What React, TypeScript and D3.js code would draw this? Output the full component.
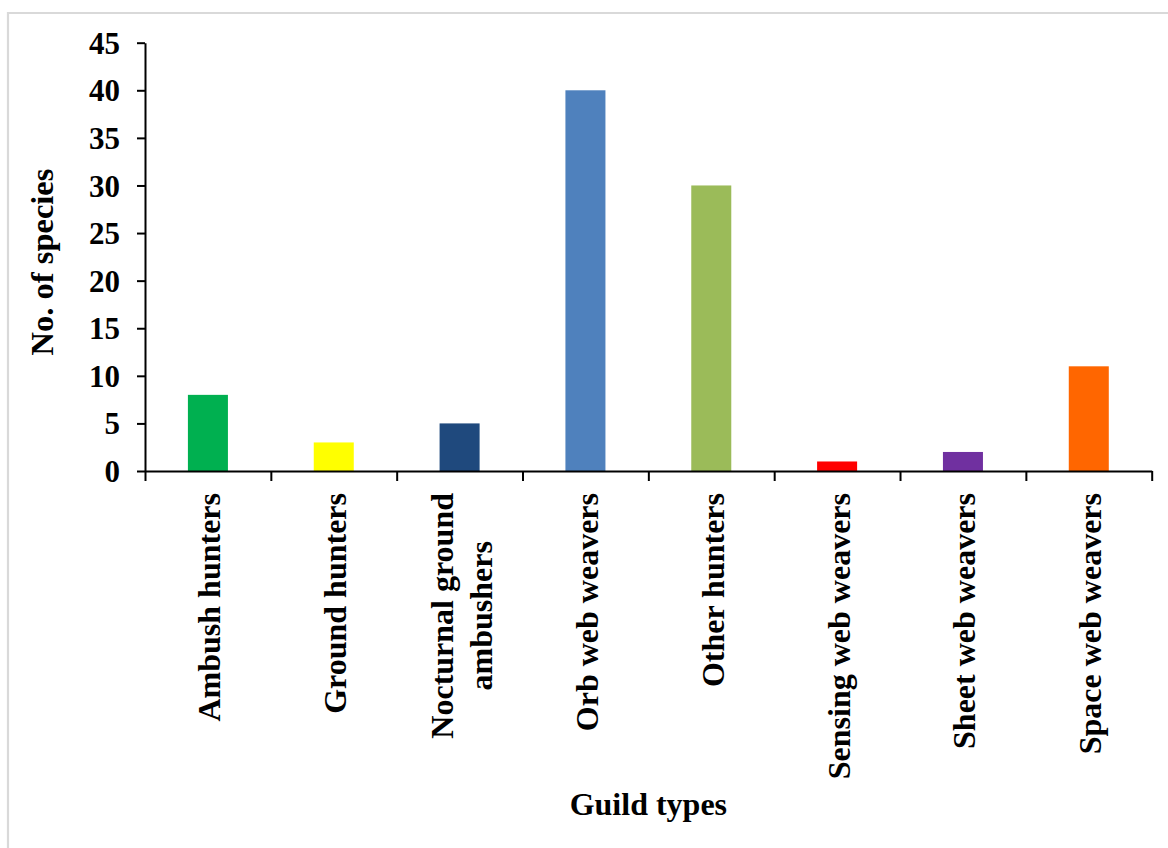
import React, { useEffect, useRef } from "react";
import * as d3 from "d3";

// Guild categories, species counts and bar colours
const categories = [
  "Ambush hunters",
  "Ground hunters",
  "Nocturnal ground\nambushers",
  "Orb web weavers",
  "Other hunters",
  "Sensing web weavers",
  "Sheet web weavers",
  "Space web weavers",
];
const speciesCounts = [8, 3, 5, 40, 30, 1, 2, 11];
const barColors = [
  "#00B050",
  "#FFFF00",
  "#1F497D",
  "#4F81BD",
  "#9BBB59",
  "#FF0000",
  "#7030A0",
  "#FF6600",
];
const yTickValues = [0, 5, 10, 15, 20, 25, 30, 35, 40, 45];

const FONT = "'Liberation Serif', 'Times New Roman', Times, serif";

export default function App() {
  const ref = useRef<SVGSVGElement>(null);

  useEffect(() => {
    const svg = d3.select(ref.current);
    svg.selectAll("*").remove();

    const W = 1168;
    const H = 848;
    const left = 145;
    const right = 1151.7;
    const top = 42.7;
    const bottom = 471;

    // light frame around the figure
    svg
      .append("path")
      .attr("d", `M8,${H} L8,13 L${W},13`)
      .attr("fill", "none")
      .attr("stroke", "#d9d9d9")
      .attr("stroke-width", 2.2);

    const x = d3.scaleBand<string>().domain(categories).range([left, right]).padding(0);
    const xEdges = d3.scaleLinear().domain([0, categories.length]).range([left, right]);
    const y = d3.scaleLinear().domain([0, 45]).range([bottom, top]);

    const barW = x.bandwidth() * 0.318;

    // bars
    svg
      .append("g")
      .selectAll("rect")
      .data(categories)
      .join("rect")
      .attr("x", (d) => (x(d) as number) + x.bandwidth() / 2 - barW / 2)
      .attr("y", (_, i) => y(speciesCounts[i]))
      .attr("width", barW)
      .attr("height", (_, i) => y(0) - y(speciesCounts[i]))
      .attr("fill", (_, i) => barColors[i]);

    // y axis
    const gy = svg
      .append("g")
      .attr("transform", `translate(${left},0)`)
      .call(
        d3
          .axisLeft(y)
          .tickValues(yTickValues)
          .tickSize(8)
          .tickSizeOuter(0)
          .tickPadding(17)
      );
    gy.selectAll("path, line").attr("stroke", "#000").attr("stroke-width", 2);
    gy.selectAll("text")
      .attr("font-family", FONT)
      .attr("font-weight", "bold")
      .attr("font-size", 31)
      .attr("fill", "#000")
      .attr("dy", "0.34em");
    gy.attr("font-size", null).attr("font-family", null);

    // x axis with tick marks on category boundaries
    const gx = svg
      .append("g")
      .attr("transform", `translate(0,${bottom})`)
      .call(
        d3
          .axisBottom(xEdges)
          .tickValues(d3.range(categories.length + 1))
          .tickSize(10)
          .tickSizeOuter(0)
          .tickFormat(() => "")
      );
    gx.selectAll("path, line").attr("stroke", "#000").attr("stroke-width", 2);

    // category labels, rotated
    const lineGap = 39;
    categories.forEach((name) => {
      const lines = name.split("\n");
      const cx = (x(name) as number) + x.bandwidth() / 2;
      const g = svg
        .append("g")
        .attr("transform", `translate(${cx},493) rotate(-90)`)
        .attr("font-family", FONT)
        .attr("font-weight", "bold")
        .attr("font-size", 32)
        .attr("fill", "#000");
      let firstLen = 0;
      lines.forEach((ln, i) => {
        const base = 12.5 + (i - (lines.length - 1) / 2) * lineGap;
        const t = g.append("text").attr("y", base).text(ln);
        if (i === 0) {
          t.attr("x", 0).attr("text-anchor", "end");
          firstLen = (t.node() as SVGTextElement).getComputedTextLength();
        } else {
          t.attr("x", -firstLen / 2).attr("text-anchor", "middle");
        }
      });
    });

    // axis titles
    svg
      .append("text")
      .attr("transform", "translate(53,262) rotate(-90)")
      .attr("text-anchor", "middle")
      .attr("font-family", FONT)
      .attr("font-weight", "bold")
      .attr("font-size", 32.5)
      .text("No. of species");

    svg
      .append("text")
      .attr("x", (left + right) / 2)
      .attr("y", 815)
      .attr("text-anchor", "middle")
      .attr("font-family", FONT)
      .attr("font-weight", "bold")
      .attr("font-size", 32)
      .text("Guild types");
  }, []);

  return (
    <svg
      ref={ref}
      width={1168}
      height={848}
      style={{ position: "absolute", left: 0, top: 0, background: "#fff" }}
    />
  );
}
